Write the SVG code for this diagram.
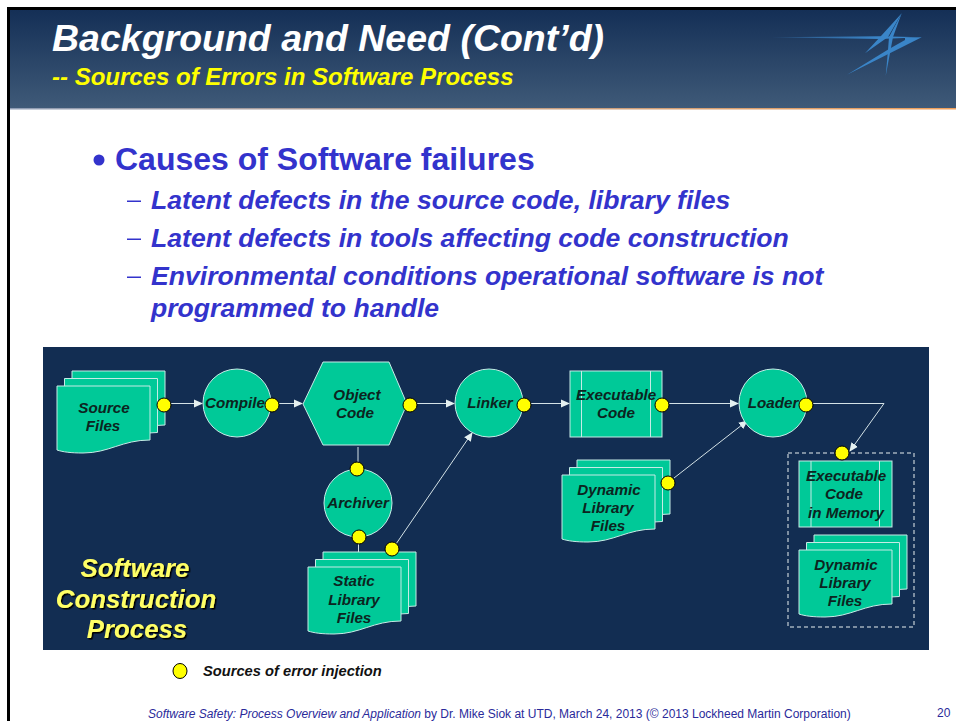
<svg xmlns="http://www.w3.org/2000/svg" width="956" height="721" viewBox="0 0 956 721">
<defs>
<linearGradient id="hdr" x1="0" y1="0" x2="0" y2="1"><stop offset="0" stop-color="#142f56"/><stop offset="1" stop-color="#3f5a78"/></linearGradient>
<linearGradient id="rule" x1="0" y1="0" x2="1" y2="0"><stop offset="0" stop-color="#8f9db5"/><stop offset="1" stop-color="#f0a05a"/></linearGradient>
<linearGradient id="streak" x1="771" y1="0" x2="922" y2="0" gradientUnits="userSpaceOnUse"><stop offset="0" stop-color="#3a7fc0" stop-opacity="0.35"/><stop offset="0.7" stop-color="#3a85c8"/></linearGradient>
<filter id="shadow" x="-10%" y="-20%" width="120%" height="140%"><feDropShadow dx="1.5" dy="1.5" stdDeviation="0.4" flood-color="#000"/></filter>
<marker id="arr" markerWidth="9" markerHeight="9" refX="8" refY="4.5" orient="auto" markerUnits="userSpaceOnUse"><path d="M0,0.5 L9,4.5 L0,8.5 Z" fill="#e4f0f0"/></marker>
<path id="doc" d="M0,0 H93 V54 C65,54 52,67 26,67 C14,67 6,66 0,64 Z"/>
<g id="stack" class="shape">
<use href="#doc" x="15" y="-15"/>
<use href="#doc" x="7.5" y="-7.5"/>
<use href="#doc"/>
</g>
</defs>
<style>
.shape{fill:#00c998;stroke:#c6ebe6;stroke-width:1}
.inner{stroke:#c6ebe6;stroke-width:1;fill:none}
.conn{stroke:#d4e2e6;stroke-width:1;fill:none}
.dot{fill:#ffff00;stroke:#000;stroke-width:1}
.sans{font-family:"Liberation Sans",Arial,sans-serif}
.node{font-family:"Liberation Sans",Arial,sans-serif;font-size:15.2px;font-weight:bold;font-style:italic;fill:#0c2420;stroke:none;text-anchor:middle}
.sub{font-family:"Liberation Sans",Arial,sans-serif;font-size:26.6px;font-weight:bold;font-style:italic;fill:#3333cc}
.big{font-family:"Liberation Sans",Arial,sans-serif;font-size:25.8px;font-weight:bold;font-style:italic;fill:#ffff66;text-anchor:middle}
</style>
<rect width="956" height="721" fill="#ffffff"/>
<g id="header">
<rect x="7" y="7" width="949" height="3" fill="#000"/>
<rect x="7" y="7" width="3" height="714" fill="#000"/>
<rect x="10" y="10" width="946" height="98" fill="url(#hdr)"/>
<rect x="10" y="108" width="946" height="1.5" fill="url(#rule)"/>
<text class="sans" x="52" y="51" font-size="37.5" font-weight="bold" font-style="italic" fill="#ffffff">Background and Need (Cont’d)</text>
<text class="sans" x="52" y="85" font-size="24" font-weight="bold" font-style="italic" fill="#ffff00">-- Sources of Errors in Software Process</text>
<g id="logo">
<path d="M771.7,37.3 L880,36.3 L921.7,37.3 L880,39 Z" fill="url(#streak)"/>
<path d="M901.7,13.3 L888,37 L865,53.3 L881,36 Z" fill="#3a85c8"/>
<path d="M901.7,13.3 L893,37 L885.7,76 L888,50 L889,37 Z" fill="#3a85c8"/>
<path d="M921.7,37.3 L847,74.7 L889,49 L905,40 L905,38 Z" fill="#3a85c8"/>
</g>
</g>
<g id="bullets">
<circle cx="99" cy="160" r="5.5" fill="#3333cc"/>
<text class="sans" x="115" y="170" font-size="32" font-weight="bold" fill="#3333cc">Causes of Software failures</text>
<rect x="127" y="200.5" width="14" height="1.5" fill="#3333cc"/>
<text class="sub" x="151" y="209">Latent defects in the source code, library files</text>
<rect x="127" y="238.5" width="14" height="1.5" fill="#3333cc"/>
<text class="sub" x="151" y="247">Latent defects in tools affecting code construction</text>
<rect x="127" y="276.5" width="14" height="1.5" fill="#3333cc"/>
<text class="sub" x="151" y="285">Environmental conditions operational software is not</text>
<text class="sub" x="151" y="317">programmed to handle</text>
</g>
<g id="panel">
<rect x="43" y="347" width="886" height="303" fill="#122d52"/>
</g>
<g id="connectors">
<line class="conn" x1="171" y1="403.5" x2="202" y2="403.5" marker-end="url(#arr)"/>
<line class="conn" x1="279" y1="403.5" x2="302" y2="403.5" marker-end="url(#arr)"/>
<line class="conn" x1="417" y1="403.5" x2="454" y2="403.5" marker-end="url(#arr)"/>
<line class="conn" x1="358" y1="447" x2="358" y2="462"/>
<line class="conn" x1="358.5" y1="544" x2="358.5" y2="560" marker-end="url(#arr)"/>
<line class="conn" x1="396" y1="544" x2="472" y2="433" marker-end="url(#arr)"/>
<line class="conn" x1="531" y1="403.5" x2="569" y2="403.5" marker-end="url(#arr)"/>
<line class="conn" x1="669" y1="403.5" x2="738" y2="403.5" marker-end="url(#arr)"/>
<line class="conn" x1="674" y1="478" x2="747" y2="421" marker-end="url(#arr)"/>
<polyline class="conn" points="813,403.5 884,403.5 850,451" marker-end="url(#arr)"/>
</g>
<g id="source-files"><use href="#stack" x="57" y="386"/><text class="node" x="104" y="413">Source</text><text class="node" x="103" y="431">Files</text></g>
<g id="compile"><circle class="shape" cx="237" cy="403" r="34"/><text class="node" x="235" y="408">Compile</text></g>
<g id="object-code"><polygon class="shape" points="303,404 323,362 389,362 407,404 389,445 323,445"/><text class="node" x="357" y="400">Object</text><text class="node" x="355" y="418">Code</text></g>
<g id="linker"><circle class="shape" cx="489" cy="403" r="34"/><text class="node" x="490" y="408">Linker</text></g>
<g id="archiver"><circle class="shape" cx="358" cy="503" r="34"/><text class="node" x="358" y="508">Archiver</text></g>
<g id="static-library"><use href="#stack" x="308" y="567"/><text class="node" x="354" y="586">Static</text><text class="node" x="354" y="605">Library</text><text class="node" x="354" y="623">Files</text></g>
<g id="executable-code"><rect class="shape" x="570" y="371" width="92" height="66"/><line class="inner" x1="581.5" y1="371" x2="581.5" y2="437"/><line class="inner" x1="650.5" y1="371" x2="650.5" y2="437"/><text class="node" x="616" y="400">Executable</text><text class="node" x="616" y="418">Code</text></g>
<g id="dynamic-library"><use href="#stack" x="562" y="475"/><text class="node" x="609" y="495">Dynamic</text><text class="node" x="608" y="513">Library</text><text class="node" x="608" y="531">Files</text></g>
<g id="loader"><circle class="shape" cx="773" cy="403" r="34"/><text class="node" x="773" y="408">Loader</text></g>
<g id="memory-box"><rect x="788" y="453" width="126" height="174" fill="none" stroke="#e8f0f0" stroke-width="1" stroke-dasharray="4 3"/></g>
<g id="executable-memory"><rect class="shape" x="799" y="461" width="93" height="66"/><line class="inner" x1="811" y1="461" x2="811" y2="527"/><line class="inner" x1="879.5" y1="461" x2="879.5" y2="527"/><text class="node" x="846" y="481">Executable</text><text class="node" x="844" y="499">Code</text><text class="node" x="846" y="518">in Memory</text></g>
<g id="dynamic-library-memory"><use href="#stack" x="799" y="550"/><text class="node" x="846" y="570">Dynamic</text><text class="node" x="845" y="588">Library</text><text class="node" x="845" y="606">Files</text></g>
<g id="panel-title" filter="url(#shadow)">
<text class="big" x="135" y="577">Software</text><text class="big" x="136" y="608">Construction</text><text class="big" x="137" y="638">Process</text>
</g>
<g id="error-points">
<circle class="dot" cx="164" cy="405" r="7"/>
<circle class="dot" cx="272" cy="405" r="7"/>
<circle class="dot" cx="410" cy="405" r="7"/>
<circle class="dot" cx="357" cy="469" r="7"/>
<circle class="dot" cx="359" cy="537" r="7"/>
<circle class="dot" cx="392" cy="549" r="7"/>
<circle class="dot" cx="524" cy="405" r="7"/>
<circle class="dot" cx="662" cy="405" r="7"/>
<circle class="dot" cx="806" cy="405" r="7"/>
<circle class="dot" cx="668" cy="483" r="7"/>
<circle class="dot" cx="842" cy="453" r="7"/>
</g>
<g id="legend">
<ellipse class="dot" cx="180" cy="671" rx="7" ry="7.5"/>
<text class="sans" x="203" y="676" font-size="14.7" font-weight="bold" font-style="italic" fill="#111">Sources of error injection</text>
</g>
<g id="footer">
<text class="sans" x="148" y="718" font-size="12" fill="#2a2a9a"><tspan font-style="italic">Software Safety: Process Overview and Application</tspan> by Dr. Mike Siok at UTD, March 24, 2013 (© 2013 Lockheed Martin Corporation)</text>
<text class="sans" x="937" y="717" font-size="12" fill="#2a2a9a">20</text>
</g>
</svg>
